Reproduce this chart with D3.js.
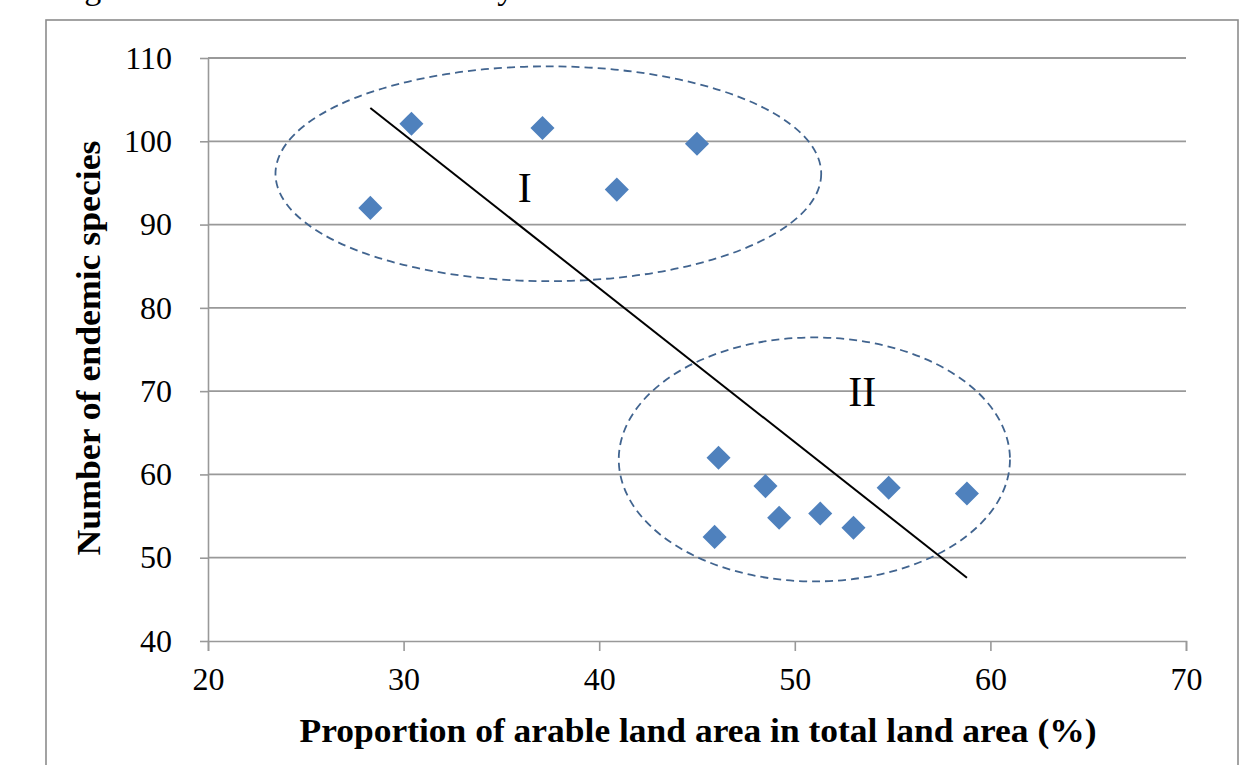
<!DOCTYPE html>
<html>
<head>
<meta charset="utf-8">
<script src="https://cdn.jsdelivr.net/npm/d3@7"></script>
<style>
  body { margin: 0; background: #fff; }
  svg { display: block; font-family: "Liberation Serif", "Times New Roman", serif; }
  .axis path, .axis line { stroke: #999; stroke-width: 1.6; }
</style>
</head>
<body>
<div id="chart"></div>
<script>
// arable land share (%) and endemic species count
const arable  = [28.3, 30.4, 37.1, 40.9, 45.0, 46.1, 48.5, 49.2, 51.3, 53.0, 45.9, 54.8, 58.8];
const endemic = [92.0, 102.1, 101.6, 94.2, 99.7, 62.0, 58.6, 54.8, 55.3, 53.6, 52.5, 58.4, 57.7];

// trend line ends
const trendX = [28.3, 58.8];
const trendY = [104.0, 47.6];

// group ellipses: centre x, centre y, half-width (x units), half-height (y units)
const groups = ['I', 'II'];
const groupCx = [37.4, 51.0];
const groupCy = [96.1, 61.8];
const groupRx = [13.95, 10.0];
const groupRy = [12.9, 14.65];
const labelX = [36.2, 53.45];
const labelY = [92.7, 68.2];

const xTicks = [20, 30, 40, 50, 60, 70];
const yTicks = [40, 50, 60, 70, 80, 90, 100, 110];

const w = 1260, h = 765;

const svg = d3.select('#chart').append('svg')
  .attr('width', w)
  .attr('height', h);

svg.append('rect').attr('width', w).attr('height', h).attr('fill', '#fff');

/* caption, cut off at the top of the page */
svg.append('text')
  .attr('x', 56)
  .attr('y', -1)
  .attr('font-size', 34)
  .text('Fig. 3 The relation to biodiversity');

/* outer frame */
svg.append('rect')
  .attr('x', 46).attr('y', 20)
  .attr('width', 1192).attr('height', 800)
  .attr('fill', 'none')
  .attr('stroke', '#8c8c8c')
  .attr('stroke-width', 1.6);

const x = d3.scaleLinear().domain([20, 70]).range([208, 1186]);
const y = d3.scaleLinear().domain([40, 110]).range([641, 58]);

/* grid */
svg.append('g')
  .selectAll('line')
  .data(yTicks.filter(t => t > 40))
  .join('line')
  .attr('x1', x(20)).attr('x2', x(70))
  .attr('y1', d => y(d)).attr('y2', d => y(d))
  .attr('stroke', '#999')
  .attr('stroke-width', 1.8);

/* axes */
svg.append('g')
  .attr('class', 'axis')
  .attr('transform', `translate(${x(20)},0)`)
  .call(d3.axisLeft(y).tickValues(yTicks).tickSizeInner(8).tickSizeOuter(0).tickPadding(28));

svg.append('g')
  .attr('class', 'axis')
  .attr('transform', `translate(0,${y(40)})`)
  .call(d3.axisBottom(x).tickValues(xTicks).tickSizeInner(10).tickSizeOuter(10).tickPadding(16));

svg.selectAll('.axis')
  .attr('font-family', '"Liberation Serif", serif')
  .attr('font-size', 32);
svg.selectAll('.axis text').attr('fill', '#000');

/* axis titles */
svg.append('text')
  .attr('x', 698)
  .attr('y', 742)
  .attr('text-anchor', 'middle')
  .attr('font-weight', 'bold')
  .attr('font-size', 34)
  .attr('textLength', 797)
  .attr('lengthAdjust', 'spacingAndGlyphs')
  .text('Proportion of arable land area in total land area (%)');

svg.append('text')
  .attr('transform', 'translate(100,348) rotate(-90)')
  .attr('text-anchor', 'middle')
  .attr('font-weight', 'bold')
  .attr('font-size', 34)
  .attr('textLength', 415)
  .attr('lengthAdjust', 'spacingAndGlyphs')
  .text('Number of endemic species');

/* group ellipses */
svg.append('g')
  .selectAll('ellipse')
  .data(groups)
  .join('ellipse')
  .attr('cx', (d, i) => x(groupCx[i]))
  .attr('cy', (d, i) => y(groupCy[i]))
  .attr('rx', (d, i) => x(groupCx[i] + groupRx[i]) - x(groupCx[i]))
  .attr('ry', (d, i) => y(groupCy[i]) - y(groupCy[i] + groupRy[i]))
  .attr('fill', 'none')
  .attr('stroke', '#41648f')
  .attr('stroke-width', 1.8)
  .attr('stroke-dasharray', '8,5');

svg.append('g')
  .selectAll('text')
  .data(groups)
  .join('text')
  .attr('x', (d, i) => x(labelX[i]))
  .attr('y', (d, i) => y(labelY[i]))
  .attr('text-anchor', 'middle')
  .attr('font-size', 42)
  .text(d => d);

/* trend line */
svg.append('line')
  .attr('x1', x(trendX[0])).attr('y1', y(trendY[0]))
  .attr('x2', x(trendX[1])).attr('y2', y(trendY[1]))
  .attr('stroke', '#000')
  .attr('stroke-width', 2);

/* points */
const diamond = d3.symbol().type(d3.symbolSquare).size(290);
svg.append('g')
  .selectAll('path')
  .data(arable)
  .join('path')
  .attr('d', diamond)
  .attr('transform', (d, i) => `translate(${x(d)},${y(endemic[i])}) rotate(45)`)
  .attr('fill', '#4f81bd');
</script>
</body>
</html>
